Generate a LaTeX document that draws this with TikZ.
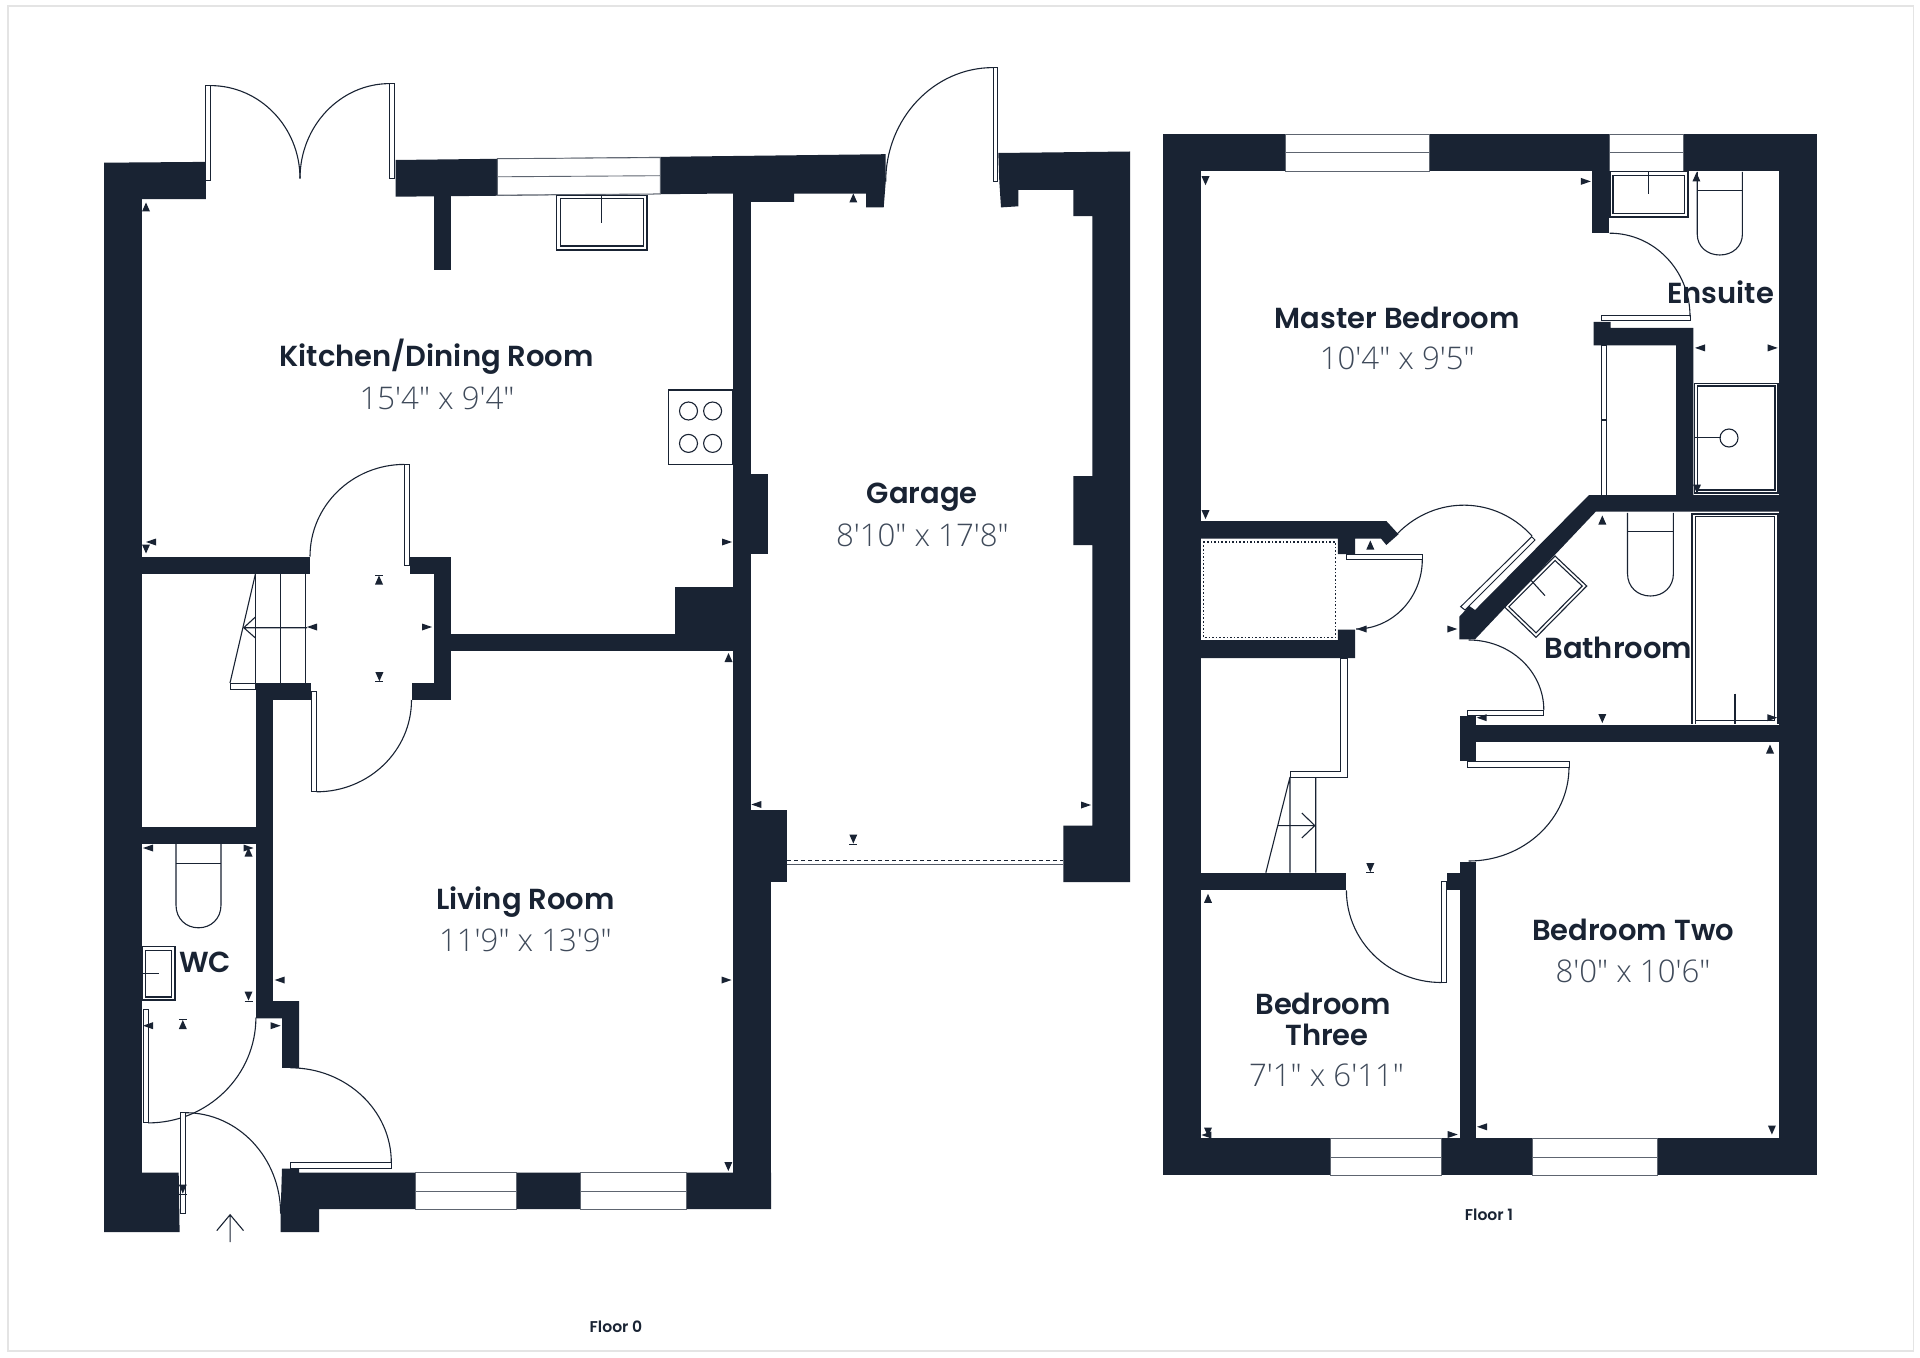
\documentclass[tikz,border=0pt]{standalone}
\usepackage{fontspec}
\usetikzlibrary{calc}
\newfontfamily\hfont{Poppins}[UprightFont=* SemiBold]
\newfontfamily\dfont{Open Sans}[UprightFont=* Light]
\definecolor{wallc}{HTML}{192333}
\definecolor{dimc}{HTML}{3F4A5A}
\definecolor{framec}{HTML}{E4E4E4}
\tikzset{
  wall/.style={fill=wallc,draw=none},
  win/.style={fill=white,draw=wallc!70,line width=0.45pt},
  fix/.style={draw=wallc,line width=0.55pt},
  leaf/.style={draw=wallc,fill=white,line width=0.5pt},
  arcline/.style={draw=wallc,line width=0.55pt},
  roomname/.style={font=\hfont\fontsize{14.5}{14.5}\selectfont,text=wallc,inner sep=0pt},
  dims/.style={font=\dfont\fontsize{15.6}{15.6}\selectfont,text=dimc,inner sep=0pt},
  floorname/.style={font=\hfont\fontsize{7.8}{7.8}\selectfont,text=wallc,inner sep=0pt}
}
\newcommand\doorarc[3]{\draw[arcline] (#1) .. controls ($(#1)!0.5523!(#2)$) and ($(#3)!0.5523!(#2)$) .. (#3);}
\newcommand\mkU[2]{\fill[wallc,shift={(#1,#2)}] (-4,4.5)--(4,4.5)--(0,-4.5)--cycle;}
\newcommand\mkD[2]{\fill[wallc,shift={(#1,#2)}] (-4,-4.5)--(4,-4.5)--(0,4.5)--cycle;}
\newcommand\mkL[2]{\fill[wallc,shift={(#1,#2)}] (5,-3.5)--(5,3.5)--(-5,0)--cycle;}
\newcommand\mkR[2]{\fill[wallc,shift={(#1,#2)}] (-5,-3.5)--(-5,3.5)--(5,0)--cycle;}
\newcommand\mkUb[2]{\mkU{#1}{#2}\draw[wallc,line width=0.4pt] (#1-4,#2-5)--(#1+4,#2-5);}
\newcommand\mkDb[2]{\mkD{#1}{#2}\draw[wallc,line width=0.4pt] (#1-4,#2+5)--(#1+4,#2+5);}
% toilet: left, right, top, cistern bottom, start of bowl curve, bottom
\newcommand\toilet[6]{%
  \draw[fix] (#1,#3)--(#1,#5) .. controls (#1,#5+0.6*#6-0.6*#5) and ({#1+0.22*(#2-#1)},#6) .. ({0.5*(#1+#2)},#6)
     .. controls ({#2-0.22*(#2-#1)},#6) and (#2,#5+0.6*#6-0.6*#5) .. (#2,#5)--(#2,#3);
  \draw[fix] (#1,#4)--(#2,#4);}
\begin{document}
\begin{tikzpicture}[x=0.5pt,y=-0.5pt]
\useasboundingbox (0,0) rectangle (1920,1358);
\fill[white] (0,0) rectangle (1920,1358);
\draw[framec,line width=0.8pt] (8,6) rectangle (1913.5,1351);

%% ---------- Floor 0 walls
\fill[wall] (104,162.7) rectangle (141.6,1232);
\fill[wall] (104,162.7)--(205.9,161.9)--(205.9,199.1)--(104,199.1)--cycle;
\fill[wall] (395.6,160)--(885.7,154.2)--(885.7,181.6)--(883.7,207.4)--(866,207.4)--(866,193.7)--(794,193.7)--(794,202)--(733.5,202)--(733.5,193.5)--(395.6,196.7)--cycle;
\fill[wall] (433.6,196) rectangle (451,269.9);
\fill[wall] (733.4,193) rectangle (751,1209);
\fill[wall] (733.4,809.5) rectangle (771,1209);
\fill[wall] (751,809.7) rectangle (787,882);
\fill[wall] (751,473.5) rectangle (768,553.7);
\fill[wall] (674.6,586.6) rectangle (733.6,633.6);
\fill[wall] (433.6,633.6) rectangle (733.6,651);
\fill[wall] (433.6,556.5) rectangle (451,700);
\fill[wall] (409.5,556.5) rectangle (451,574);
\fill[wall] (411.5,683) rectangle (450.5,700);
\fill[wall] (141.6,556.5) rectangle (309.5,574);
\fill[wall] (141.6,826.5) rectangle (273.3,844);
\fill[wall] (255.9,683) rectangle (273.3,1018.4);
\fill[wall] (255.9,683) rectangle (311,700);
\fill[wall] (256,1001)--(299,1001)--(299,1067.8)--(282,1067.8)--(282,1018.4)--(256,1018.4)--cycle;
\fill[wall] (104,1172.7)--(178.7,1172.7)--(179.6,1232)--(104,1232)--cycle;
\fill[wall] (282,1168.6)--(299,1168.6)--(299,1172.7)--(771,1172.7)--(771,1209)--(319.2,1209)--(319.2,1232)--(280.6,1232)--(280.6,1213)--cycle;
% garage right
\fill[wall] (998.3,153)--(1130,151.5)--(1130,882)--(1063.3,882)--(1063.3,825.7)--(1092.3,825.7)--(1092.3,545)--(1073.3,545)--(1073.3,476)--(1092.3,476)--(1092.3,216.2)--(1073.3,216.2)--(1073.3,190)--(1018.3,190)--(1018.3,206.3)--(1001,207.4)--(999.3,181.6)--cycle;

%% windows floor 0
\draw[win] (497.4,158.7)--(660.4,157.6)--(660.4,193.9)--(497.4,195.1)--cycle;
\draw[win] (497.4,176.8)--(660.4,175.7);
\draw[win] (415,1172.7) rectangle (516,1209);
\draw[win] (415,1191)--(516,1191);
\draw[win] (580.5,1172.7) rectangle (686,1209);
\draw[win] (580.5,1191)--(686,1191);

%% doors floor 0
\draw[leaf] (205,85.6) rectangle (210.4,180.5);
\doorarc{210.4,85.6}{300,85.6}{300,178.5}
\draw[leaf] (389.8,83.6) rectangle (394.7,178.5);
\doorarc{389.8,83.6}{300,83.6}{300,178.5}
\draw[leaf] (993,67.6) rectangle (997.7,181.6);
\doorarc{993,67.6}{885.7,67.6}{885.7,181.6}
\draw[leaf] (404.5,464.4) rectangle (409.5,565.2);
\doorarc{404.5,464.4}{310,464.4}{310,556.5}
\draw[leaf] (311.4,691) rectangle (316.5,791.8);
\doorarc{316.5,791.8}{411.5,791.8}{411.5,700}
\draw[leaf] (143,1009.4) rectangle (148,1122.9);
\doorarc{148,1122.9}{255.9,1122.9}{255.9,1017.5}
\draw[leaf] (290.3,1162.4) rectangle (391.3,1168.6);
\doorarc{290.3,1067.8}{391.3,1067.8}{391.3,1162.4}
\draw[leaf] (180.6,1112.7) rectangle (185.6,1213.5);
\doorarc{185.6,1112.7}{280.6,1112.7}{280.6,1213.5}
% garage door
\draw[wallc,line width=0.4pt,dash pattern=on 2pt off 1.5pt] (787,860.8)--(1063.3,860.8);
\draw[wallc!75,line width=0.8pt] (787,864.6)--(1063.3,864.6);
% entry arrow
\draw[fix] (230.1,1242)--(230.1,1214.7) (216.8,1230.6)--(230.1,1214.7)--(243.5,1230.6);

%% stairs floor 0
\draw[fix] (255.4,574)--(255.4,683) (280.9,574)--(280.9,683) (305.9,574)--(305.9,683);
\draw[fix] (255.4,574)--(230,683);
\draw[leaf] (230,683) rectangle (255.9,689);
\draw[fix] (307,627.7)--(243.8,627.7) (255.4,617)--(243.8,627.7)--(255.4,638);

%% fixtures floor 0
\draw[fix] (556.8,195.5) rectangle (647,250);
\draw[fix] (560.4,198.7) rectangle (643.4,246);
\draw[fix] (601.9,195.5)--(601.9,222.8);
\draw[fix] (668.4,390) rectangle (732.2,464.4);
\foreach \cx in {688.5,712.6}\foreach \cy in {411,443.4}{\draw[fix] (\cx,\cy) circle[radius=9];}
\toilet{176}{221}{844}{863.7}{905}{927.8}
\draw[fix] (142.4,946.5) rectangle (175,1000);
\draw[fix] (145.7,950.2) rectangle (171.4,997);
\draw[fix] (142,973.5)--(158.5,973.5);

%% markers floor 0
\mkU{146}{207}\mkD{146}{549}\mkL{151}{542}\mkUb{379}{580}\mkL{312}{627}\mkR{427}{627}
\mkR{727}{542}\mkU{728.5}{657.5}\mkDb{379.4}{676.7}\mkD{728.3}{1166.5}\mkR{726.5}{980}
\mkL{279.7}{980}\mkL{148}{848}\mkR{248.5}{848}\mkU{248.5}{852}\mkDb{248.5}{996}\mkUb{182.8}{1024.5}
\mkL{148}{1025.7}\mkR{275.6}{1025.7}\mkDb{182.8}{1189}\mkL{756.3}{804.5}
\mkU{853.3}{198}\mkR{1086}{805}\mkDb{853.3}{839}

%% ---------- Floor 1 walls
\fill[wall] (1163,134.3) rectangle (1816.5,171);
\fill[wall] (1163,134.3) rectangle (1200.7,1175.4);
\fill[wall] (1778.8,134.3) rectangle (1816.5,1175.4);
\fill[wall] (1163,1138.3) rectangle (1816.5,1175.4);
\fill[wall] (1592.3,171) rectangle (1609.2,233.2);
\fill[wall] (1593.6,321.8)--(1610.5,321.8)--(1610.5,327.9)--(1693.4,327.9)--(1693.4,495)--(1676,495)--(1676,345.4)--(1593.6,345.4)--cycle;
\fill[wall] (1589,495)--(1779,495)--(1779,511.7)--(1595.7,511.7)--(1475,639.3)--(1459.3,639.3)--(1459.3,616.7)--(1469.3,606)--(1475,610)--cycle;
\fill[wall] (1200.7,521)--(1386.3,521)--(1398.5,534.3)--(1386.3,545)--(1381,538.5)--(1355,538.5)--(1355,554)--(1337.8,554)--(1337.8,538.5)--(1200.7,538.5)--cycle;
\fill[wall] (1337.8,629.6)--(1355,629.6)--(1355,658)--(1200.7,658)--(1200.7,640)--(1337.8,640)--cycle;
\fill[wall] (1200.7,872.7) rectangle (1346,890.3);
\fill[wall] (1447,873.4) rectangle (1459.6,890.3);
\fill[wall] (1459.6,862) rectangle (1476,1140);
\fill[wall] (1459.6,715.8) rectangle (1476,761.3);
\fill[wall] (1476,725) rectangle (1779,742.2);

%% windows floor 1
\draw[win] (1285.7,134.3) rectangle (1429.7,171);\draw[win] (1285.7,152.9)--(1429.7,152.9);
\draw[win] (1609,134.3) rectangle (1683.8,171);\draw[win] (1609,152.9)--(1683.8,152.9);
\draw[win] (1330.8,1138.3) rectangle (1441,1175.4);\draw[win] (1330.8,1157)--(1441,1157);
\draw[win] (1532.5,1138.3) rectangle (1657.4,1175.4);\draw[win] (1532.5,1157)--(1657.4,1157);

%% doors floor 1
\draw[leaf] (1601.9,315.7) rectangle (1690,321);
\doorarc{1609.7,233.2}{1690,233.2}{1690,316.4}
\draw[leaf] (1601,345.4) rectangle (1606.2,495);
\draw[fix] (1601,420)--(1606.2,420);
\draw[leaf] (1531.7,536.7)--(1535,540)--(1465,610)--(1460.7,606.7)--cycle;
\doorarc{1397,534}{1466,463}{1532,536}
\draw[leaf] (1346,554.6) rectangle (1422.3,559.3);
\doorarc{1422.3,559.3}{1422.3,629}{1356,629}
\draw[leaf] (1467.4,710) rectangle (1543.8,715.4);
\doorarc{1543.8,710}{1543.8,640}{1468.7,640}
\draw[leaf] (1467.4,761.7) rectangle (1569,767);
\doorarc{1569,767}{1569,861}{1468.7,861}
\draw[leaf] (1441.4,881.9) rectangle (1446.6,982.5);
\doorarc{1441.4,982.5}{1346.4,982.5}{1346.4,890.3}
% closet line
\draw[leaf] (1340.8,658)--(1347.7,658)--(1347.7,777)--(1290,777)--(1290,771)--(1340.8,771)--cycle;
% cupboard
\draw[wallc,line width=0.8pt,dash pattern=on 0.8pt off 1pt] (1203.3,541.7) rectangle (1335.3,637.3);

%% stairs floor 1
\draw[fix] (1290,777)--(1290,872.7) (1315.7,777)--(1315.7,872.7) (1290,777)--(1265.8,872.7);
\draw[fix] (1278,825.6)--(1314.8,825.6) (1301.8,813)--(1314.8,825.6)--(1301.8,838);

%% fixtures floor 1
\draw[fix] (1610,171.8) rectangle (1688,217);
\draw[fix] (1613,175.4) rectangle (1684.7,213.6);
\draw[fix] (1648.7,171.8)--(1648.7,194);
\toilet{1697.2}{1742.4}{171.8}{190.7}{234}{255}
\draw[fix] (1694.7,383.2) rectangle (1778,493);
\draw[fix] (1697.7,386) rectangle (1775,490);
\draw[fix] (1694.7,437.9)--(1720.7,437.9);
\draw[fix] (1729,438) circle[radius=9];
\toilet{1627.5}{1673.4}{512.9}{531.8}{573.6}{596}
\draw[fix] (1692,724)--(1692,514)--(1778,514)--(1778,724);
\draw[fix] (1695.5,724)--(1695.5,516.4)--(1774.5,516.4)--(1774.5,720.4)--(1695.5,720.4);
\draw[fix] (1735,693.6)--(1735,724);
\draw[fix] (1555,556)--(1586.7,586)--(1536,637.3)--(1504.3,606.7)--cycle;
\draw[fix] (1555,560.5)--(1582.2,586)--(1536,632.8)--(1508.8,606.7)--cycle;
\draw[fix] (1530.7,580)--(1545,595.7);

%% markers floor 1
\mkD{1205.5}{180.7}\mkR{1585.8}{181.4}\mkD{1205.5}{514.6}\mkU{1370.3}{545}\mkL{1361.6}{629}
\mkR{1452.3}{629}\mkU{1602.3}{520}\mkU{1696.4}{177}\mkL{1700}{347.9}\mkR{1772.7}{347.9}\mkD{1697}{489}
\mkL{1481.7}{717.7}\mkD{1602.3}{718.5}\mkR{1772.3}{717.7}\mkU{1770}{749}\mkDb{1370.3}{867.7}
\mkU{1208}{898.3}\mkD{1208}{1132}\mkL{1206.4}{1135}\mkR{1452.7}{1134.5}\mkL{1482}{1126.8}\mkD{1771.9}{1130}

%% ---------- Labels
\node[roomname] (kitchen) at (436.7,357) {Kitchen/Dining Room};
\node[dims] (kitchend) at (437,398) {15'4" x 9'4"};
\node[roomname] (garage) at (922.3,497) {Garage};
\node[dims] (garaged) at (922.3,535.5) {8'10" x 17'8"};
\node[roomname] (living) at (525.4,902) {Living Room};
\node[dims] (livingd) at (525.4,940.8) {11'9" x 13'9"};
\node[roomname] (wc) at (205,962) {WC};
\node[roomname] (master) at (1397.2,317.5) {Master Bedroom};
\node[dims] (masterd) at (1397.2,358.6) {10'4" x 9'5"};
\node[roomname] (ensuite) at (1720.7,292) {Ensuite};
\node[roomname] (bathroom) at (1618.3,647.5) {Bathroom};
\node[roomname] (bedtwo) at (1633,930) {Bedroom Two};
\node[dims] (bedtwod) at (1633,971) {8'0" x 10'6"};
\node[roomname] (bedthreea) at (1323,1004.3) {Bedroom};
\node[roomname] (bedthreeb) at (1327,1034.5) {Three};
\node[dims] (bedthreed) at (1326.5,1075) {7'1" x 6'11"};
\node[floorname] (floor0) at (616,1326.5) {Floor 0};
\node[floorname] (floor1) at (1489,1215) {Floor 1};
\end{tikzpicture}
\end{document}
